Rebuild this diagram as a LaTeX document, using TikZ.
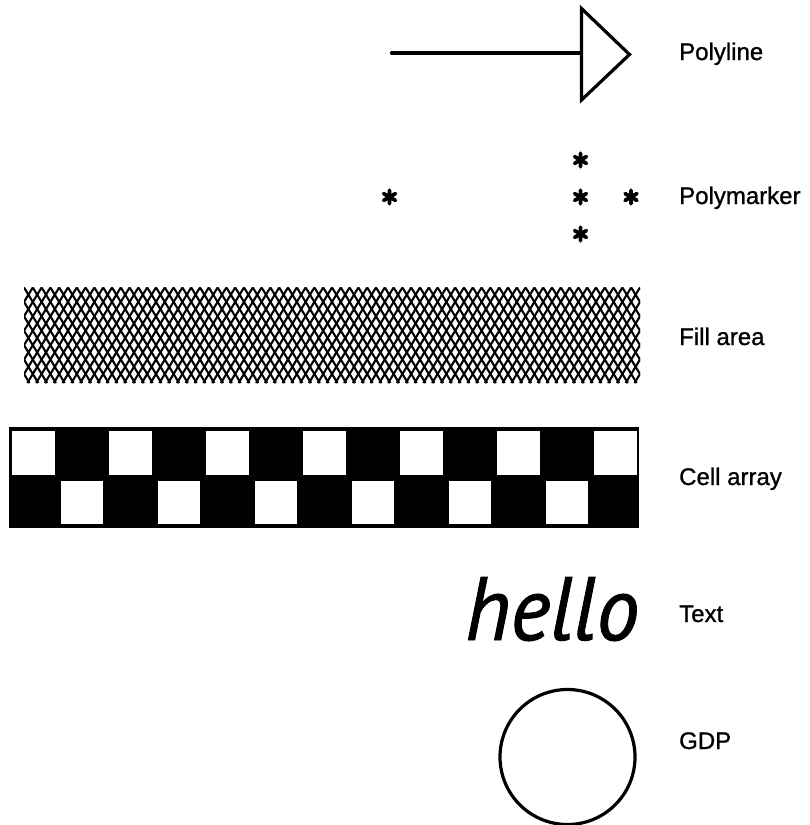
\documentclass[tikz,border=0pt]{standalone}
\usepackage{fontspec}
\setmainfont{Liberation Sans}[FakeBold=1]
\newfontfamily\hellofont{PT Sans}[FakeBold=1]
\begin{document}
\begin{tikzpicture}[x=1pt,y=-1pt,
  lab/.style={anchor=base west, inner sep=0pt, font=\fontsize{24}{28}\selectfont},
  heavy/.style={line width=3.2pt},
  ast/.pic={\draw[line width=3.8pt, line cap=round] (0,-6.8)--(0,6.8) (-5.9,-3.4)--(5.9,3.4) (-5.9,3.4)--(5.9,-3.4);}
]
\useasboundingbox (0,0) rectangle (809,825);
% Polyline
\coordinate (ls) at (391.5,53);
\coordinate (tb) at (581.5,53);
\coordinate (t1) at (581.5,8.5);
\coordinate (t2) at (629.5,54.5);
\coordinate (t3) at (581.5,100);
\draw[heavy, line cap=round] (ls) -- (tb);
\draw[heavy, line join=miter] (t1) -- (t2) -- (t3) -- cycle;
\node[lab] (l1) at (679,60) {Polyline};
% Polymarker
\pic (m1) at (389.5,197) {ast};
\pic (m2) at (580.5,160) {ast};
\pic (m3) at (580.5,197) {ast};
\pic (m4) at (580.5,234) {ast};
\pic (m5) at (631,197) {ast};
\node[lab] (l2) at (679,204) {Polymarker};
% Fill area
\begin{scope}
\clip (24,287.5) rectangle (640,383);
\foreach \k in {-8,...,78} {
  \draw[line width=2.1pt] ({24+\k*8.8},287.5) -- ++(58.3,95.5);
  \draw[line width=2.1pt] ({24+\k*8.8},287.5) -- ++(-58.3,95.5);
}
\end{scope}
\node[lab] (l3) at (679,345) {Fill area};
% Cell array
\fill (8.5,427) rectangle (639,527.5);
\foreach \i in {0,2,...,12} \fill[white] ({8.5+\i*48.5+3.5},430.5) rectangle ({8.5+(\i+1)*48.5-2.5},475);
\foreach \i in {1,3,...,11} \fill[white] ({8.5+\i*48.5+3.5},480.5) rectangle ({8.5+(\i+1)*48.5-2.5},524);
\node[lab] (l4) at (679,485) {Cell array};
% Text
\node[anchor=base west, inner sep=0pt] (hello) at (465,640) {\resizebox{174pt}{63pt}{\hellofont\itshape hello}};
\node[lab] (l5) at (679,622) {Text};
% GDP
\node[draw, circle, line width=3.2pt, minimum size=135pt, inner sep=0pt] (gdp) at (567.5,757) {};
\node[lab] (l6) at (679,749) {GDP};
\end{tikzpicture}
\end{document}
